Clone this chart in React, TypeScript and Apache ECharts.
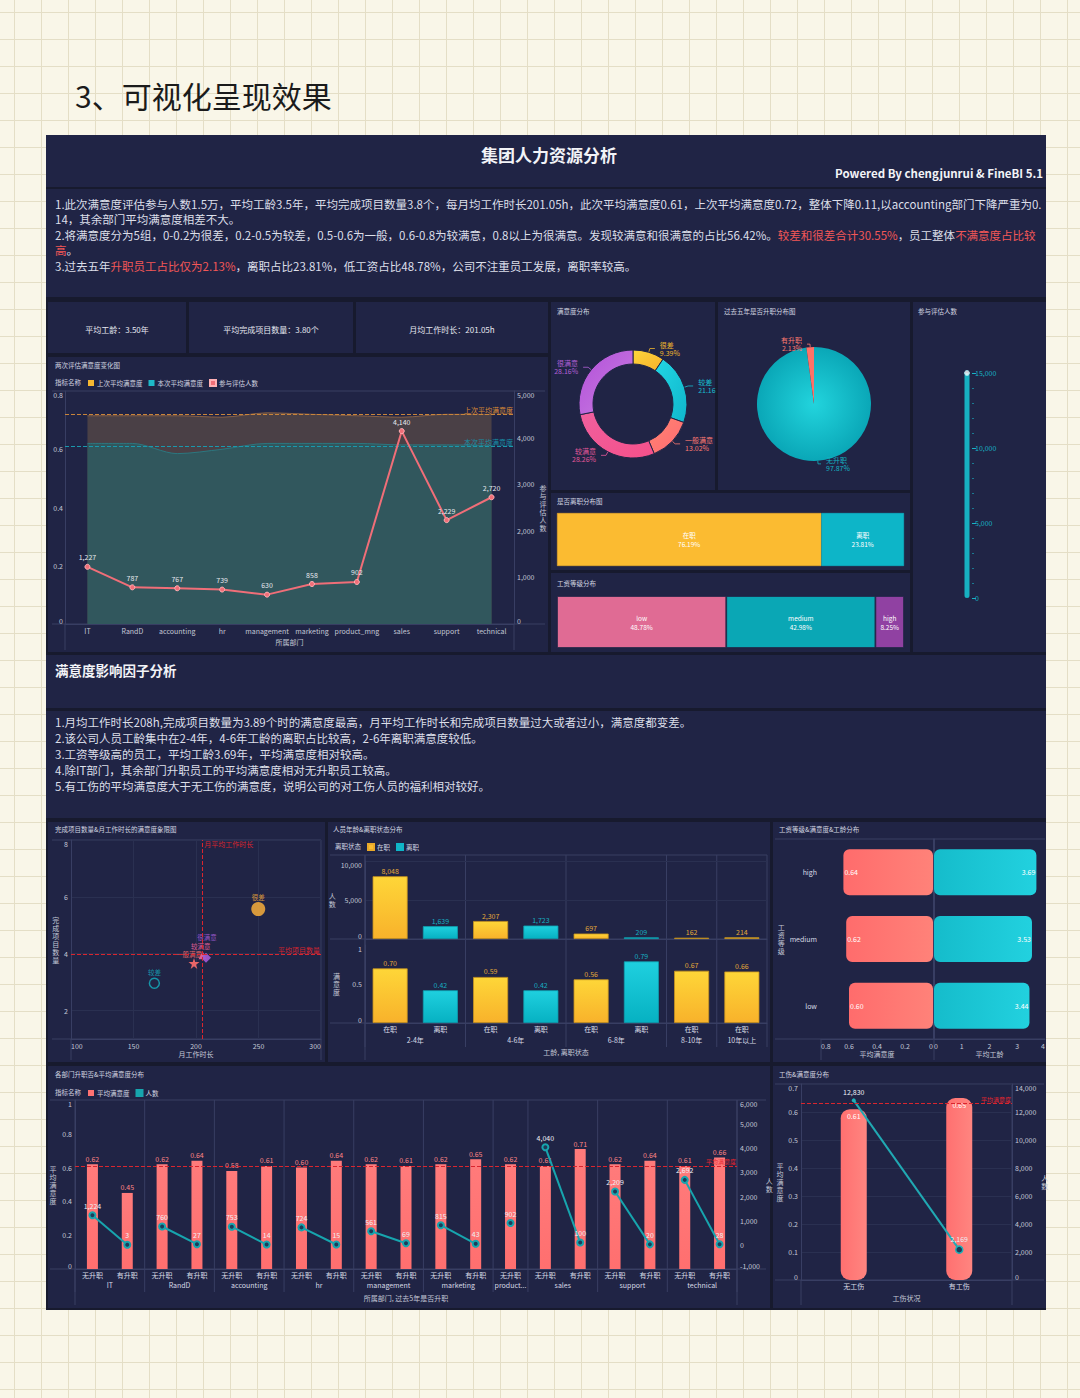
import React, { useEffect, useRef } from 'react';
import * as echarts from 'echarts';

// ---------------- data ----------------
const depts = ['IT', 'RandD', 'accounting', 'hr', 'management', 'marketing', 'product_mng', 'sales', 'support', 'technical'];
const prevSatisfaction = [0.715, 0.715, 0.715, 0.71, 0.725, 0.72, 0.715, 0.71, 0.72, 0.72];
const currSatisfaction = [0.62, 0.62, 0.585, 0.6, 0.62, 0.62, 0.62, 0.615, 0.615, 0.613];
const evalCounts = [1227, 787, 767, 739, 630, 858, 902, 4140, 2229, 2720];
const prevAvg = 0.72;
const currAvg = 0.61;

const kpiTexts = ['平均工龄：3.50年', '平均完成项目数量：3.80个', '月均工作时长：201.05h'];

const satLevels = ['很差', '较差', '一般满意', '较满意', '很满意'];
const satShares = [9.39, 21.16, 13.02, 28.26, 28.16];
const satSuffix = ['%', '', '%', '%', '%'];

const promoNames = ['无升职', '有升职'];
const promoShares = [97.87, 2.13];

const totalEvaluated = 14999;

const leaveNames = ['在职', '离职'];
const leaveShares = [76.19, 23.81];

const salaryNames = ['low', 'medium', 'high'];
const salaryShares = [48.78, 42.98, 8.25];

const scatterNames = ['很差', '较差', '一般满意', '较满意', '很满意'];
const scatterHours = [249.8, 166.7, 198.4, 205.3, 208];
const scatterProjects = [5.57, 2.96, 3.66, 3.95, 3.86];
const avgHoursLine = 205;
const avgProjectsLine = 3.98;

const tenureGroups = ['2-4年', '4-6年', '6-8年', '8-10年', '10年以上'];
const tenureGroupIdx = [0, 0, 1, 1, 2, 2, 3, 4];
const tenureStatus = ['在职', '离职', '在职', '离职', '在职', '离职', '在职', '在职'];
const tenureCounts = [8048, 1639, 2307, 1723, 697, 209, 162, 214];
const tenureSatisfaction = [0.7, 0.42, 0.59, 0.42, 0.56, 0.79, 0.67, 0.66];

const salaryLevels = ['low', 'medium', 'high'];
const salarySatisfaction = [0.6, 0.62, 0.64];
const salaryTenure = [3.44, 3.53, 3.69];

const promoDeptIdx = [0, 0, 1, 1, 2, 2, 3, 3, 4, 4, 5, 5, 6, 7, 7, 8, 8, 9, 9];
const promoStatus = ['无升职', '有升职', '无升职', '有升职', '无升职', '有升职', '无升职', '有升职', '无升职', '有升职', '无升职', '有升职', '无升职', '无升职', '有升职', '无升职', '有升职', '无升职', '有升职'];
const promoDeptSatisfaction = [0.62, 0.45, 0.62, 0.64, 0.58, 0.61, 0.6, 0.64, 0.62, 0.61, 0.62, 0.65, 0.62, 0.61, 0.71, 0.62, 0.64, 0.61, 0.66];
const promoDeptCounts = [1224, 3, 760, 27, 753, 14, 724, 15, 561, 69, 815, 43, 902, 4040, 100, 2209, 20, 2692, 28];
const promoAvgLine = 0.61;

const injuryNames = ['无工伤', '有工伤'];
const injurySatisfaction = [0.61, 0.65];
const injuryCounts = [12830, 2169];
const injuryAvgLine = 0.625;

// ---------------- styles ----------------
const FONT = "'Noto Sans CJK SC', 'Noto Sans', sans-serif";
const LABEL = '#c4c8d6';
const AXIS = '#383e63';
const SPLIT = '#2a3051';
const TITLE = '#d2d5e0';
const RED = '#d9252e';
const GAP = '#171a2e';
const PANEL = '#202445';
const TEAL = '#17b3c4';
const YELLOW = '#f9bb2f';
const SALMON = '#ff7272';
const STAR = 'path://M50,0 L61,35 L98,35 L68,57 L79,91 L50,70 L21,91 L32,57 L2,35 L39,35 Z';

const fmtInt = (v: any) => Number(v).toLocaleString('en-US');
const fmt2 = (v: any) => Number(v).toFixed(2);
const vname = (s: string) => s.split('').join('\n');

function lin(x2: number, y2: number, stops: string[]) {
  return new echarts.graphic.LinearGradient(0, 0, x2, y2, stops.map((c, i) => ({ offset: i / (stops.length - 1), color: c })));
}

const axisLineOn = { show: true, lineStyle: { color: AXIS, width: 1 } };
const lbl = (o: any = {}) => ({ color: LABEL, fontSize: 7, fontFamily: FONT, ...o });
const nameStyle = { color: LABEL, fontSize: 7, lineHeight: 8, fontFamily: FONT };

function valueAxis(o: any) {
  return {
    type: 'value',
    axisLine: axisLineOn,
    axisTick: { show: false },
    splitLine: { show: false },
    nameTextStyle: nameStyle,
    ...o,
    axisLabel: lbl({ margin: 3, ...(o.axisLabel || {}) }),
  };
}
function catAxis(o: any) {
  return {
    type: 'category',
    axisLine: axisLineOn,
    axisTick: { show: false },
    splitLine: { show: false },
    nameTextStyle: nameStyle,
    ...o,
    axisLabel: lbl({ margin: 3, interval: 0, ...(o.axisLabel || {}) }),
  };
}

const donutColors = [
  ['#fdd63b', '#f6b02b'],
  ['#22d6e4', '#0fb6cb'],
  ['#ff8470', '#ff6a74'],
  ['#f0609e', '#f5508a'],
  ['#b24fd8', '#c97fe2'],
];
const donutLabelColors = ['#f0b62d', '#18bfd0', '#ff7a72', '#e4589a', '#b060d5'];
const promoColors = [
  new echarts.graphic.RadialGradient(0.5, 0.5, 0.5, [
    { offset: 0, color: '#22d4dd' },
    { offset: 1, color: '#0aa7b7' },
  ]),
  '#ff7267',
];
const promoLabelColors = ['#15b3c2', '#ff7a70'];
const leaveColors = ['#fbbb31', '#0db5c8'];
const salaryColors = ['#e06b94', '#0aa7b5', '#9041a2'];
const scatterColors = ['#e2a03c', '#14b0c0', '#f36a6a', '#e8609a', '#9d58d0'];
const scatterSymbols = ['circle', 'circle', STAR, 'triangle', 'diamond'];
const scatterSizes = [14, 10, 11, 8, 10];
const scatterOffsets = [[0, 0], [0, 0], [-5, 1], [-2, 0], [1, -10]];

function buildOption(): any {
  const xAxis: any[] = [
    catAxis({ gridIndex: 0, data: depts, name: '所属部门', nameLocation: 'middle', nameGap: 14 }),
    { gridIndex: 1, type: 'category', data: ['参与评估人数'], show: false },
    { gridIndex: 2, type: 'value', min: 0, max: 'dataMax', show: false },
    { gridIndex: 3, type: 'value', min: 0, max: 'dataMax', show: false },
    valueAxis({
      gridIndex: 4, min: 100, max: 300, interval: 50, name: '月工作时长', nameLocation: 'middle', nameGap: 11,
      splitLine: { show: true, lineStyle: { color: SPLIT } },
      axisLabel: { alignMinLabel: 'left', alignMaxLabel: 'right' },
    }),
    catAxis({ gridIndex: 5, data: tenureStatus, axisLabel: { show: false } }),
    catAxis({ gridIndex: 6, data: tenureStatus, name: '工龄, 离职状态', nameLocation: 'middle', nameGap: 25, axisLabel: { margin: 2.5, color: '#d8dbe6' } }),
    valueAxis({
      gridIndex: 7, inverse: true, min: 0, max: 0.8, interval: 0.2, name: '平均满意度', nameLocation: 'middle', nameGap: 11,
      axisLabel: { alignMinLabel: 'right', alignMaxLabel: 'left' },
    }),
    valueAxis({
      gridIndex: 8, min: 0, max: 4, interval: 1, name: '平均工龄', nameLocation: 'middle', nameGap: 11,
      axisLabel: { alignMinLabel: 'left', alignMaxLabel: 'right' },
    }),
    catAxis({ gridIndex: 9, data: promoStatus, name: '所属部门, 过去5年是否升职', nameLocation: 'middle', nameGap: 25, axisLabel: { margin: 2, color: '#d8dbe6' } }),
    catAxis({ gridIndex: 10, data: injuryNames, name: '工伤状况', nameLocation: 'middle', nameGap: 14, axisLabel: { margin: 2.5, color: '#d8dbe6' } }),
  ];

  const yAxis: any[] = [
    valueAxis({ gridIndex: 0, min: 0, max: 0.8, interval: 0.2, axisLabel: { margin: 2, verticalAlignMinLabel: 'bottom', verticalAlignMaxLabel: 'top' } }),
    valueAxis({
      gridIndex: 0, position: 'right', min: 0, max: 5000, interval: 1000, name: vname('参与评估人数'), nameLocation: 'middle', nameRotate: 0, nameGap: 21,
      axisLabel: { margin: 3, verticalAlignMinLabel: 'bottom', verticalAlignMaxLabel: 'top' },
    }),
    {
      gridIndex: 1, type: 'value', position: 'right', offset: 2, min: 0, max: 15000, interval: 5000,
      axisLine: { show: false },
      axisTick: { show: true, length: 4, lineStyle: { color: TEAL } },
      minorTick: { show: true, splitNumber: 5, length: 2, lineStyle: { color: 'rgba(23,179,196,0.6)' } },
      splitLine: { show: false },
      axisLabel: { color: TEAL, fontSize: 7, margin: 3, fontFamily: FONT },
    },
    { gridIndex: 2, type: 'category', data: ['a'], show: false },
    { gridIndex: 3, type: 'category', data: ['a'], show: false },
    valueAxis({
      gridIndex: 4, min: 1, max: 8, name: vname('完成项目数量'), nameLocation: 'middle', nameRotate: 0, nameGap: 9,
      splitLine: { show: true, lineStyle: { color: SPLIT } },
      axisTick: { show: false, customValues: [2, 4, 6, 8] },
      axisLabel: { customValues: [2, 4, 6, 8], verticalAlignMaxLabel: 'top' },
    }),
    valueAxis({
      gridIndex: 5, min: 0, max: 10000, interval: 5000, name: vname('人数'), nameLocation: 'middle', nameRotate: 0, nameGap: 25,
      splitLine: { show: true, lineStyle: { color: SPLIT } },
      axisLabel: { verticalAlignMinLabel: 'bottom', verticalAlignMaxLabel: 'top' },
    }),
    valueAxis({
      gridIndex: 6, min: 0, max: 1, interval: 0.5, name: vname('满意度'), nameLocation: 'middle', nameRotate: 0, nameGap: 25,
      axisLabel: { verticalAlignMinLabel: 'bottom', verticalAlignMaxLabel: 'top' },
    }),
    catAxis({ gridIndex: 7, data: salaryLevels, name: vname('工资等级'), nameLocation: 'middle', nameRotate: 0, nameGap: 34, axisLabel: { margin: 4, color: '#d8dbe6' } }),
    catAxis({ gridIndex: 8, data: salaryLevels, axisLabel: { show: false } }),
    valueAxis({
      gridIndex: 9, min: 0, max: 1, interval: 0.2, name: vname('平均满意度'), nameLocation: 'middle', nameRotate: 0, nameGap: 15,
      axisLabel: { verticalAlignMinLabel: 'bottom', verticalAlignMaxLabel: 'top' },
    }),
    valueAxis({
      gridIndex: 9, position: 'right', min: -1000, max: 6000, interval: 1000, name: vname('人数'), nameLocation: 'middle', nameRotate: 0, nameGap: 21,
      axisLine: { show: false },
      axisLabel: { verticalAlignMinLabel: 'bottom', verticalAlignMaxLabel: 'top' },
    }),
    valueAxis({
      gridIndex: 10, min: 0, max: 0.7, interval: 0.1, name: vname('平均满意度'), nameLocation: 'middle', nameRotate: 0, nameGap: 16,
      splitLine: { show: true, lineStyle: { color: SPLIT } },
      axisLabel: { verticalAlignMinLabel: 'bottom', verticalAlignMaxLabel: 'top' },
    }),
    valueAxis({
      gridIndex: 10, position: 'right', min: 0, max: 14000, interval: 2000, name: vname('人数'), nameLocation: 'middle', nameRotate: 0, nameGap: 24,
      axisLabel: { verticalAlignMinLabel: 'bottom', verticalAlignMaxLabel: 'top' },
    }),
  ];

  const grid = [
    { left: 65, top: 391, width: 449, height: 233 },
    { left: 964, top: 373, width: 6, height: 225 },
    { left: 557, top: 513, width: 347, height: 53 },
    { left: 557, top: 596, width: 347, height: 52 },
    { left: 71, top: 840, width: 250, height: 199 },
    { left: 365, top: 861, width: 402, height: 78 },
    { left: 365, top: 945, width: 402, height: 78 },
    { left: 821, top: 839, width: 112, height: 200 },
    { left: 934, top: 839, width: 111, height: 200 },
    { left: 75, top: 1100, width: 662, height: 169 },
    { left: 801, top: 1084, width: 211, height: 196 },
  ];

  const legendBase = {
    icon: 'rect', itemWidth: 6, itemHeight: 6, itemGap: 6, padding: 0, selectedMode: false,
    textStyle: { color: TITLE, fontSize: 6.5, fontFamily: FONT, padding: [0, 0, 0, -2] },
  };
  const legend = [
    {
      ...legendBase, left: 88, top: 379,
      data: [
        { name: '上次平均满意度', itemStyle: { color: '#f5b731' } },
        { name: '本次平均满意度', itemStyle: { color: '#1eb8c8' } },
        { name: '参与评估人数', itemStyle: { color: '#f06e78' } },
      ],
    },
    {
      ...legendBase, left: 367, top: 843,
      data: [
        { name: '在职', itemStyle: { color: YELLOW } },
        { name: '离职', itemStyle: { color: TEAL } },
      ],
    },
    {
      ...legendBase, left: 88, top: 1089,
      data: [
        { name: '平均满意度', itemStyle: { color: SALMON } },
        { name: '人数', itemStyle: { color: '#17a5ae' } },
      ],
    },
  ];

  const series: any[] = [];

  // --- line chart: two satisfaction areas + count line
  series.push({
    type: 'line', name: '上次平均满意度', xAxisIndex: 0, yAxisIndex: 0, data: prevSatisfaction, smooth: 0.3,
    symbol: 'none', itemStyle: { color: '#f5b731' }, lineStyle: { color: '#8a6246', width: 1 },
    areaStyle: { color: '#4a4046', opacity: 1 }, z: 1,
    markLine: {
      silent: true, symbol: 'none', data: [{ yAxis: prevAvg }],
      lineStyle: { color: '#c8843a', type: 'dashed', width: 1 },
      label: { position: 'insideEndTop', formatter: '上次平均满意度', color: '#d88a36', fontSize: 7, fontFamily: FONT, distance: 1 },
    },
  });
  series.push({
    type: 'line', name: '本次平均满意度', xAxisIndex: 0, yAxisIndex: 0, data: currSatisfaction, smooth: 0.3,
    symbol: 'none', itemStyle: { color: '#1eb8c8' }, lineStyle: { color: '#2b7880', width: 1 },
    areaStyle: { color: '#31575d', opacity: 1 }, z: 1,
    markLine: {
      silent: true, symbol: 'none', data: [{ yAxis: currAvg }],
      lineStyle: { color: '#1a98ad', type: 'dashed', width: 1 },
      label: { position: 'insideEndTop', formatter: '本次平均满意度', color: '#178fa6', fontSize: 7, fontFamily: FONT, distance: 1 },
    },
  });
  series.push({
    type: 'line', name: '参与评估人数', xAxisIndex: 0, yAxisIndex: 1, data: evalCounts,
    symbol: 'circle', symbolSize: 5, itemStyle: { color: '#f06e78', borderColor: '#ffb0b5', borderWidth: 1 },
    lineStyle: { color: '#f06e78', width: 2 }, z: 5,
    label: { show: true, position: 'top', color: '#e6e8ef', fontSize: 7, fontFamily: FONT, distance: 3, formatter: (p: any) => fmtInt(p.value) },
  });

  // --- donut
  series.push({
    type: 'pie', name: '满意度分布', radius: [40, 54], center: [633, 404], startAngle: 90, clockwise: true,
    itemStyle: { borderColor: PANEL, borderWidth: 1 },
    data: satLevels.map((n, i) => ({
      name: n, value: satShares[i],
      itemStyle: { color: lin(1, 1, donutColors[i]) },
      label: { color: donutLabelColors[i] },
      labelLine: { lineStyle: { color: donutLabelColors[i] } },
    })),
    label: {
      fontSize: 7, lineHeight: 8, fontFamily: FONT,
      formatter: (p: any) => `${p.name}\n${fmt2(p.value)}${satSuffix[p.dataIndex]}`,
    },
    labelLine: { length: 4, length2: 5, lineStyle: { width: 0.8 } },
  });

  // --- promotion pie
  series.push({
    type: 'pie', name: '升职分布', radius: 57, center: [814, 404], startAngle: 90, clockwise: true,
    data: promoNames.map((n, i) => ({
      name: n, value: promoShares[i],
      itemStyle: { color: promoColors[i] },
      label: { color: promoLabelColors[i] },
      labelLine: { lineStyle: { color: promoLabelColors[i] } },
    })),
    label: { fontSize: 7, lineHeight: 8, fontFamily: FONT, formatter: (p: any) => `${p.name}\n${fmt2(p.value)}%` },
    labelLine: { length: 3, length2: 3, lineStyle: { width: 0.8 } },
  });

  // --- gauge-like bar
  series.push({
    type: 'bar', name: 'gauge', xAxisIndex: 1, yAxisIndex: 2, data: [totalEvaluated], barWidth: 5,
    itemStyle: { color: '#17b1c1', borderRadius: 3 },
  });
  series.push({
    type: 'scatter', name: 'gaugeDot', xAxisIndex: 1, yAxisIndex: 2, data: [totalEvaluated], symbolSize: 5,
    itemStyle: { color: '#ffffff', borderColor: '#9fe8ef', borderWidth: 1 }, z: 5,
  });

  // --- leave stacked bar
  leaveNames.forEach((n, i) => {
    series.push({
      type: 'bar', name: n, stack: 'leave', xAxisIndex: 2, yAxisIndex: 3, data: [leaveShares[i]], barWidth: '100%',
      itemStyle: { color: leaveColors[i], borderColor: i === 0 ? '#e9a92a' : leaveColors[i], borderWidth: 0.6 },
      label: { show: true, position: 'inside', color: '#fff', fontSize: 6.5, lineHeight: 9, fontFamily: FONT, formatter: (p: any) => `${p.seriesName}\n${fmt2(p.value)}%` },
    });
  });
  // --- salary stacked bar
  salaryNames.forEach((n, i) => {
    series.push({
      type: 'bar', name: n, stack: 'salary', xAxisIndex: 3, yAxisIndex: 4, data: [salaryShares[i]], barWidth: '100%',
      itemStyle: { color: salaryColors[i], borderColor: PANEL, borderWidth: 0.8 },
      label: { show: true, position: 'inside', color: '#fff', fontSize: 6.5, lineHeight: 9, fontFamily: FONT, formatter: (p: any) => `${p.seriesName}\n${fmt2(p.value)}%` },
    });
  });

  // --- scatter quadrant
  series.push({
    type: 'scatter', name: 'quadrant', xAxisIndex: 4, yAxisIndex: 5,
    data: scatterNames.map((n, i) => ({
      name: n, value: [scatterHours[i], scatterProjects[i]],
      symbol: scatterSymbols[i], symbolSize: scatterSizes[i],
      itemStyle: i === 1
        ? { color: 'transparent', borderColor: scatterColors[i], borderWidth: 1.5 }
        : { color: scatterColors[i], opacity: 0.95 },
      label: { color: scatterColors[i], offset: scatterOffsets[i] },
    })),
    label: { show: true, position: 'top', distance: 2, fontSize: 6.5, fontFamily: FONT, formatter: '{b}' },
    markLine: {
      silent: true, symbol: 'none',
      lineStyle: { color: RED, type: 'dashed', width: 1 },
      data: [
        { xAxis: avgHoursLine, label: { show: false } },
        { yAxis: avgProjectsLine, label: { show: true, position: 'insideEndTop', formatter: '平均项目数量', color: RED, fontSize: 7, fontFamily: FONT, distance: 1 } },
      ],
    },
  });

  // --- tenure bars
  const tenureLabel = (color: string, f: any) => ({ show: true, position: 'top', distance: 2, color, fontSize: 7, fontFamily: FONT, formatter: (p: any) => f(p.value) });
  const yellowGrad = lin(0, 1, ['#fed638', '#f8b22b']);
  const tealGrad = lin(0, 1, ['#1fd0df', '#06b1c2']);
  series.push({
    type: 'bar', name: '在职', xAxisIndex: 5, yAxisIndex: 6, barWidth: 35, barGap: '-100%',
    data: tenureCounts.map((v, i) => (tenureStatus[i] === '在职' ? v : '-')),
    itemStyle: { color: yellowGrad, borderColor: '#c99420', borderWidth: 0.8 },
    label: tenureLabel('#e3a93a', fmtInt),
  });
  series.push({
    type: 'bar', name: '离职', xAxisIndex: 5, yAxisIndex: 6, barWidth: 35, barGap: '-100%',
    data: tenureCounts.map((v, i) => (tenureStatus[i] === '离职' ? v : '-')),
    itemStyle: { color: tealGrad, borderColor: '#0e9fb0', borderWidth: 0.8 },
    label: tenureLabel('#17adc0', fmtInt),
  });
  series.push({
    type: 'bar', name: '在职', xAxisIndex: 6, yAxisIndex: 7, barWidth: 35, barGap: '-100%',
    data: tenureSatisfaction.map((v, i) => (tenureStatus[i] === '在职' ? v : '-')),
    itemStyle: { color: yellowGrad, borderColor: '#c99420', borderWidth: 0.8 },
    label: tenureLabel('#e3a93a', fmt2),
  });
  series.push({
    type: 'bar', name: '离职', xAxisIndex: 6, yAxisIndex: 7, barWidth: 35, barGap: '-100%',
    data: tenureSatisfaction.map((v, i) => (tenureStatus[i] === '离职' ? v : '-')),
    itemStyle: { color: tealGrad, borderColor: '#0e9fb0', borderWidth: 0.8 },
    label: tenureLabel('#17adc0', fmt2),
  });

  // --- salary butterfly bars
  series.push({
    type: 'bar', name: 'salarySatisfaction', xAxisIndex: 7, yAxisIndex: 8, data: salarySatisfaction, barWidth: 46,
    itemStyle: { color: lin(1, 0, ['#ff6c6c', '#ff8279']), borderRadius: 6 },
    label: { show: true, position: 'insideLeft', distance: 1, color: '#fff', fontSize: 7, fontFamily: FONT, formatter: (p: any) => fmt2(p.value) },
  });
  series.push({
    type: 'bar', name: 'salaryTenure', xAxisIndex: 8, yAxisIndex: 9, data: salaryTenure, barWidth: 46,
    itemStyle: { color: lin(1, 0, ['#15bccb', '#22d1df']), borderRadius: 6 },
    label: { show: true, position: 'insideRight', distance: 1, color: '#fff', fontSize: 7, fontFamily: FONT, formatter: (p: any) => fmt2(p.value) },
  });

  // --- department promotion bars + count lines
  series.push({
    type: 'bar', name: '平均满意度', xAxisIndex: 9, yAxisIndex: 10, data: promoDeptSatisfaction, barWidth: 11,
    itemStyle: { color: lin(0, 1, ['#ff7b7b', '#ff6f6f']) },
    label: { show: true, position: 'top', distance: 2, color: '#ff8585', fontSize: 7, fontFamily: FONT, formatter: (p: any) => fmt2(p.value) },
    markLine: {
      silent: true, symbol: 'none', data: [{ yAxis: promoAvgLine }],
      lineStyle: { color: RED, type: 'dashed', width: 1 },
      label: { position: 'insideEndTop', formatter: '平均满意度', color: '#e8242e', fontSize: 6, fontFamily: FONT, distance: 1 },
    },
    z: 2,
  });
  depts.forEach((d, di) => {
    series.push({
      type: 'line', name: '人数', xAxisIndex: 9, yAxisIndex: 11,
      data: promoDeptCounts.map((v, i) => (promoDeptIdx[i] === di ? v : '-')),
      connectNulls: false, symbol: 'circle', symbolSize: 6, showAllSymbol: true,
      lineStyle: { color: '#17a5ae', width: 2 },
      itemStyle: { color: '#1d3b58', borderColor: '#17a5ae', borderWidth: 2 },
      label: { show: true, position: 'top', distance: 2, color: '#eef0f5', fontSize: 7, fontFamily: FONT, formatter: (p: any) => fmtInt(p.value) },
      z: 4,
    });
  });

  // --- injury
  series.push({
    type: 'bar', name: '平均满意度', xAxisIndex: 10, yAxisIndex: 12, data: injurySatisfaction, barWidth: 26,
    itemStyle: { color: lin(1, 0, ['#ff7070', '#ff8580']), borderRadius: 9 },
    label: { show: true, position: 'insideTop', distance: 3, color: '#fff', fontSize: 7, fontFamily: FONT, formatter: (p: any) => fmt2(p.value) },
    markLine: {
      silent: true, symbol: 'none', data: [{ yAxis: injuryAvgLine }],
      lineStyle: { color: RED, type: 'dashed', width: 1 },
      label: { position: 'insideEndTop', formatter: '平均满意度', color: '#e8242e', fontSize: 6, fontFamily: FONT, distance: 1 },
    },
  });
  const injurySymbolSizes = [4, 7];
  series.push({
    type: 'line', name: 'injuryCount', xAxisIndex: 10, yAxisIndex: 13,
    data: injuryCounts.map((v, i) => ({
      value: v, symbolSize: injurySymbolSizes[i],
      itemStyle: i === 0 ? { color: '#1fb0b8' } : { color: '#1d3b58', borderColor: '#1fb0b8', borderWidth: 1.5 },
    })),
    symbol: 'circle', lineStyle: { color: '#20a9b3', width: 2 },
    label: { show: true, position: 'top', distance: 3, color: '#eef0f5', fontSize: 7, fontFamily: FONT, formatter: (p: any) => fmtInt(p.value) },
    z: 4,
  });

  return {
    animation: false,
    backgroundColor: 'transparent',
    textStyle: { fontFamily: FONT },
    grid, xAxis, yAxis, legend, series,
  };
}

// ---------------- decoration graphics ----------------
function R(x: number, y: number, w: number, h: number, fill: string) {
  return { type: 'rect', silent: true, z: -100, shape: { x, y, width: w, height: h }, style: { fill } };
}
function L(x1: number, y1: number, x2: number, y2: number, stroke = AXIS) {
  return { type: 'line', silent: true, z: -50, shape: { x1, y1, x2, y2 }, style: { stroke, lineWidth: 1 } };
}
function T(x: number, y: number, text: string, o: any = {}) {
  const align = o.align || 'left';
  return {
    type: 'text', silent: true, z: 100, x, y,
    style: {
      text, fill: o.fill || TITLE, fontSize: o.size || 6.5, fontFamily: FONT, fontWeight: o.weight || 'normal',
      align, verticalAlign: 'middle', textAlign: align, textVerticalAlign: 'middle',
      ...(o.rich ? { rich: o.rich } : {}),
    },
  };
}

function baseGraphics(): any[] {
  const g: any[] = [];
  g.push(R(46, 135, 1000, 1175, GAP));
  g.push(R(46, 135, 1000, 52, PANEL));
  g.push(R(46, 189, 1000, 108, PANEL));
  g.push(R(48, 302, 138, 51, PANEL));
  g.push(R(189, 302, 164, 51, PANEL));
  g.push(R(356, 302, 192, 51, PANEL));
  g.push(R(48, 357, 500, 295, PANEL));
  g.push(R(551, 302, 164, 188, PANEL));
  g.push(R(718, 302, 192, 188, PANEL));
  g.push(R(913, 302, 133, 350, PANEL));
  g.push(R(551, 493, 359, 77, PANEL));
  g.push(R(551, 573, 359, 79, PANEL));
  g.push(R(46, 655, 1000, 53, PANEL));
  g.push(R(46, 711, 1000, 107, PANEL));
  g.push(R(48, 822, 277, 240, PANEL));
  g.push(R(328, 822, 442, 240, PANEL));
  g.push(R(773, 822, 273, 240, PANEL));
  g.push(R(48, 1066, 722, 242, PANEL));
  g.push(R(773, 1066, 273, 242, PANEL));

  g.push(T(75, 95, '3、可视化呈现效果', { fill: '#1b1b1b', size: 30 }));
  g.push(T(549, 154, '集团人力资源分析', { fill: '#f2f3f7', size: 17, weight: 'bold', align: 'center' }));
  g.push(T(1043, 173, 'Powered By chengjunrui & FineBI 5.1', { fill: '#f2f3f7', size: 11.5, weight: 'bold', align: 'right' }));

  const fs = 11.5;
  const rich = {
    n: { fill: '#dcdfe9', fontSize: fs, fontFamily: FONT },
    r: { fill: '#f25757', fontSize: fs, fontFamily: FONT },
  };
  const block1 = [
    '{n|1.此次满意度评估参与人数1.5万，平均工龄3.5年，平均完成项目数量3.8个，每月均工作时长201.05h，此次平均满意度0.61，上次平均满意度0.72，整体下降0.11,以accounting部门下降严重为0.}',
    '{n|14，其余部门平均满意度相差不大。}',
    '{n|2.将满意度分为5组，0-0.2为很差，0.2-0.5为较差，0.5-0.6为一般，0.6-0.8为较满意，0.8以上为很满意。发现较满意和很满意的占比56.42%。}{r|较差和很差合计30.55%}{n|，员工整体}{r|不满意度占比较}',
    '{r|高}{n|。}',
    '{n|3.过去五年}{r|升职员工占比仅为2.13%}{n|，离职占比23.81%，低工资占比48.78%，公司不注重员工发展，离职率较高。}',
  ];
  const ys1 = [204, 219, 235, 250, 266];
  block1.forEach((t, i) => g.push(T(55, ys1[i], t, { rich, size: fs })));

  g.push(T(55, 670, '满意度影响因子分析', { fill: '#f2f3f7', size: 13.5, weight: 'bold' }));
  const block2 = [
    '1.月均工作时长208h,完成项目数量为3.89个时的满意度最高，月平均工作时长和完成项目数量过大或者过小，满意度都变差。',
    '2.该公司人员工龄集中在2-4年，4-6年工龄的离职占比较高，2-6年离职满意度较低。',
    '3.工资等级高的员工，平均工龄3.69年，平均满意度相对较高。',
    '4.除IT部门，其余部门升职员工的平均满意度相对无升职员工较高。',
    '5.有工伤的平均满意度大于无工伤的满意度，说明公司的对工伤人员的福利相对较好。',
  ];
  const ys2 = [722, 738, 754, 770, 786];
  block2.forEach((t, i) => g.push(T(55, ys2[i], t, { fill: '#dcdfe9', size: fs })));

  const kpiCenters = [117, 271, 452];
  kpiTexts.forEach((t, i) => g.push(T(kpiCenters[i], 329, t, { fill: '#e6e8f0', size: 8, align: 'center' })));

  const titles: [number, number, string][] = [
    [55, 365, '两次评估满意度变化图'],
    [557, 311, '满意度分布'],
    [724, 311, '过去五年是否升职分布图'],
    [918, 311, '参与评估人数'],
    [557, 501, '是否离职分布图'],
    [557, 583, '工资等级分布'],
    [55, 829, '完成项目数量&月工作时长的满意度象限图'],
    [333, 829, '人员年龄&离职状态分布'],
    [779, 829, '工资等级&满意度&工龄分布'],
    [55, 1074, '各部门升职否&平均满意度分布'],
    [779, 1074, '工伤&满意度分布'],
  ];
  titles.forEach(([x, y, t]) => g.push(T(x, y, t)));
  g.push(T(55, 382, '指标名称'));
  g.push(T(335, 846, '离职状态'));
  g.push(T(55, 1092, '指标名称'));

  g.push(L(52, 391, 545, 391), L(52, 624, 545, 624), L(65, 624, 65, 650), L(514, 624, 514, 650));
  g.push(L(52, 840, 321, 840), L(52, 1039, 321, 1039), L(71, 1039, 71, 1060), L(321, 840, 321, 1060));
  g.push(L(330, 855, 767, 855), L(330, 939, 767, 939), L(330, 1023, 767, 1023), L(365, 855, 365, 1060));
  g.push(L(775, 839, 1045, 839), L(775, 1039, 1045, 1039), L(821, 1039, 821, 1060), L(934, 1039, 934, 1060));
  g.push(L(50, 1100, 766, 1100), L(50, 1269, 766, 1269), L(75, 1269, 75, 1305), L(737, 1100, 737, 1305));
  g.push(L(775, 1084, 1044, 1084), L(775, 1280, 1044, 1280), L(801, 1280, 801, 1305), L(1012, 1084, 1012, 1305));
  return g;
}

function computedGraphics(chart: any): any[] {
  const g: any[] = [];
  const px = (axis: number, v: number) => chart.convertToPixel({ xAxisIndex: axis }, v) as number;
  const pxY = (axis: number, v: number) => chart.convertToPixel({ yAxisIndex: axis }, v) as number;

  function groups(axis: number, idx: number[], labels: string[], labelY: number, y1: number, y2: number) {
    const band = px(axis, 1) - px(axis, 0);
    const bounds: number[] = [];
    labels.forEach((lab, gi) => {
      const members = idx.map((d, i) => (d === gi ? i : -1)).filter((i) => i >= 0);
      if (!members.length) return;
      const a = px(axis, members[0]);
      const b = px(axis, members[members.length - 1]);
      g.push(T((a + b) / 2, labelY, lab, { fill: '#d8dbe6', size: 7, align: 'center' }));
      bounds.push(a - band / 2);
      if (gi === labels.length - 1) bounds.push(b + band / 2);
    });
    bounds.forEach((x) => g.push(L(x, y1, x, y2)));
  }
  groups(6, tenureGroupIdx, tenureGroups, 1040, 855, 1047);
  const deptLabels = depts.map((d) => (d.length > 10 ? d.slice(0, 7) + '...' : d));
  groups(9, promoDeptIdx, deptLabels, 1285, 1100, 1292);

  const xh = chart.convertToPixel({ xAxisIndex: 4 }, avgHoursLine) as number;
  const yTop = pxY(5, 8);
  g.push(T(xh + 2, yTop + 4, '月平均工作时长', { fill: RED, size: 7 }));
  return g;
}

export default function App() {
  const ref = useRef<HTMLDivElement>(null);
  useEffect(() => {
    document.body.style.margin = '0';
    const chart = echarts.init(ref.current!, null, { renderer: 'svg', width: 1080, height: 1398 });
    chart.setOption(buildOption());
    chart.setOption({ graphic: { elements: [...baseGraphics(), ...computedGraphics(chart)] } });
    return () => chart.dispose();
  }, []);
  return (
    <div
      ref={ref}
      style={{
        position: 'absolute', left: 0, top: 0, width: 1080, height: 1398,
        backgroundColor: '#f9f6e8',
        backgroundImage: 'linear-gradient(#e4dec6 1px, transparent 1px), linear-gradient(90deg, #e4dec6 1px, transparent 1px)',
        backgroundSize: '27px 27px',
        backgroundPosition: '14px 12px',
      }}
    />
  );
}
